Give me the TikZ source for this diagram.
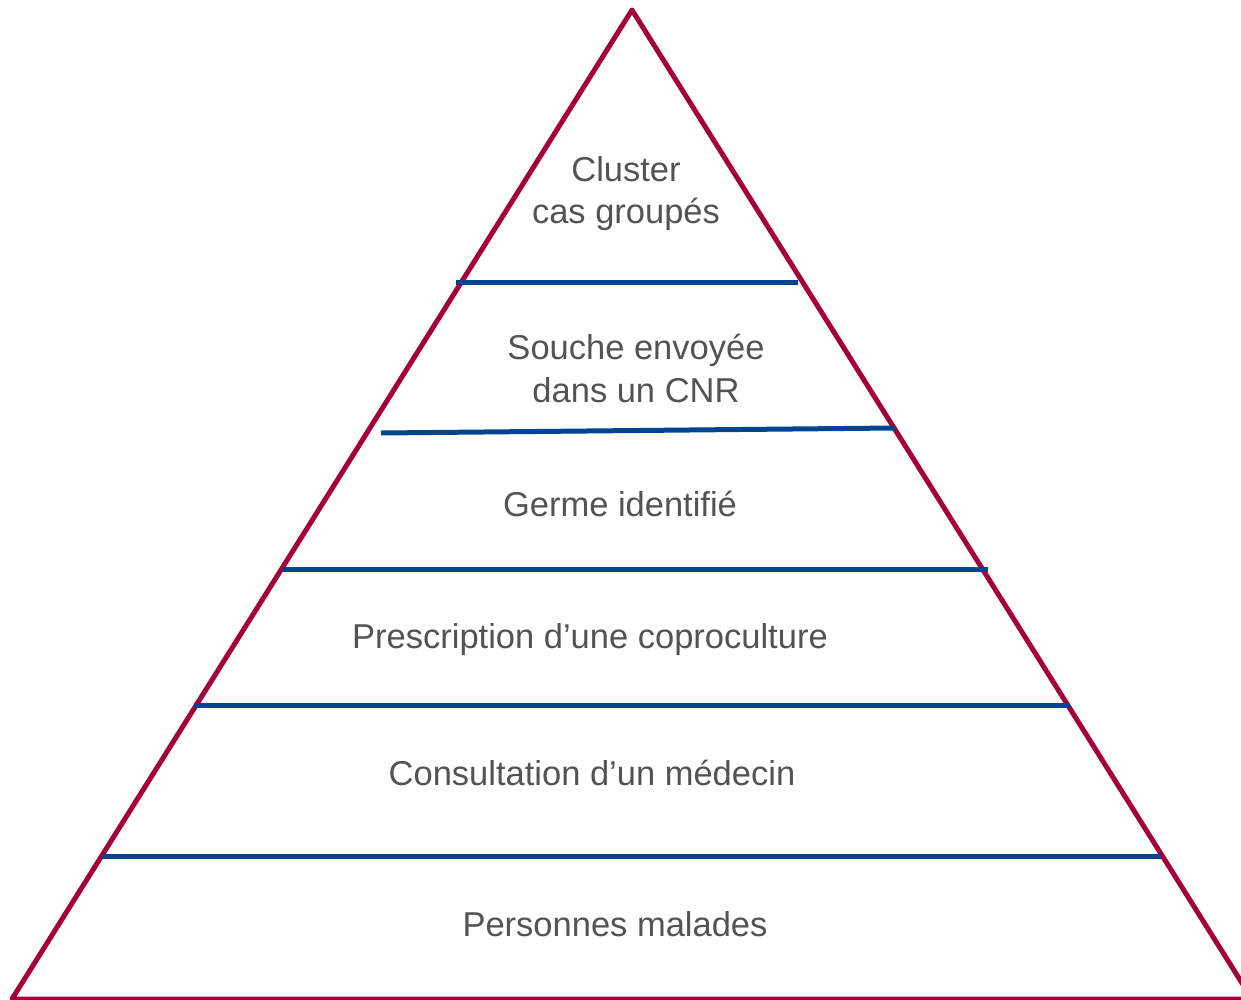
\documentclass[tikz,border=0pt]{standalone}
\usepackage{fontspec}
\setmainfont{Liberation Sans}
\definecolor{pyrred}{HTML}{A6003A}
\definecolor{pyrblue}{HTML}{00438F}
\definecolor{pyrtext}{HTML}{535353}

\begin{document}
\begin{tikzpicture}[x = 1pt, y = -1pt,
  rim/.style = {pyrred, line width = 5pt, line join = round},
  cut/.style = {pyrblue, line width = 5pt},
  tier/.style = {text = pyrtext, font = \fontsize{34.5}{42.5}\selectfont,
    align = center, inner sep = 0pt, anchor = base}]
\clip (0, 0) rectangle (1241, 1000);
% outer triangle
\coordinate (apex) at (632, 10);
\coordinate (baseL) at (12, 999);
\coordinate (baseR) at (1252, 999);
\draw [rim] (apex) -- (baseL) -- (baseR) -- cycle;
% separating lines
\coordinate (c1L) at (456, 282);
\coordinate (c1R) at (798, 282);
\coordinate (c2L) at (381, 433);
\coordinate (c2R) at (895, 428);
\coordinate (c3L) at (283, 569);
\coordinate (c3R) at (988, 569);
\coordinate (c4L) at (194, 705);
\coordinate (c4R) at (1070, 705);
\coordinate (c5L) at (102, 856);
\coordinate (c5R) at (1161, 856);
\draw [cut] (c1L) -- (c1R);
\draw [cut] (c2L) -- (c2R);
\draw [cut] (c3L) -- (c3R);
\draw [cut] (c4L) -- (c4R);
\draw [cut] (c5L) -- (c5R);
% levels (base = last line)
\node [tier] (cluster) at (626, 224) {Cluster\\cas groupés};
\node [tier] (souche) at (636, 402) {Souche envoyée\\dans un CNR};
\node [tier] (germe) at (620, 516) {Germe identifié};
\node [tier] (prescr) at (590, 648) {Prescription d’une coproculture};
\node [tier] (consult) at (592, 785) {Consultation d’un médecin};
\node [tier] (malades) at (615, 936) {Personnes malades};
\end{tikzpicture}
\end{document}
